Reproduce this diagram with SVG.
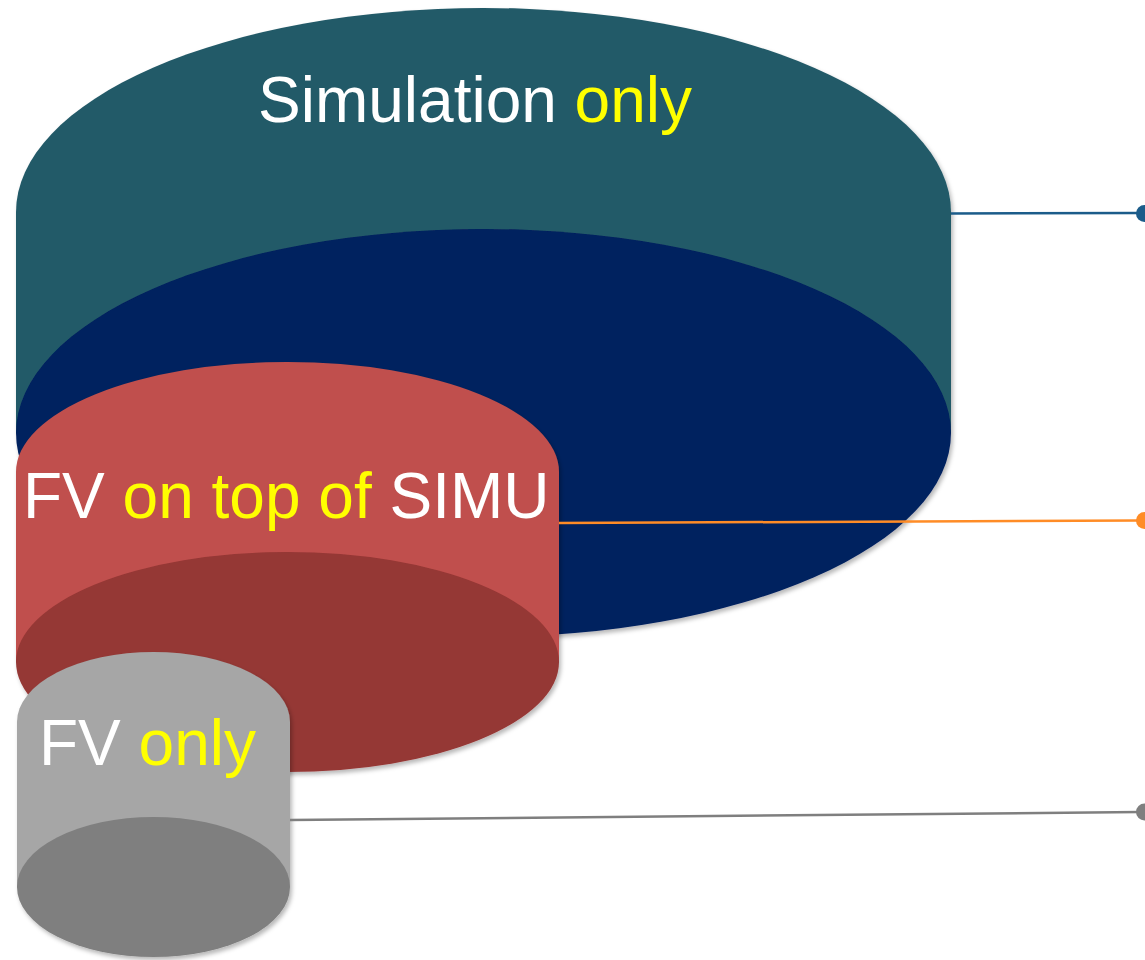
<svg xmlns="http://www.w3.org/2000/svg" width="1145" height="960" viewBox="0 0 1145 960">
  <defs>
    <filter id="shadow" x="-5%" y="-5%" width="112%" height="112%">
      <feDropShadow dx="2" dy="3" stdDeviation="2" flood-color="#000" flood-opacity="0.28"/>
    </filter>
    <style>
      .label { font-family: "Liberation Sans", Arial, sans-serif; font-size: 64px; fill: #ffffff; }
      .hl { fill: #ffff00; }
      .link { fill: none; stroke-width: 2.5; }
    </style>
  </defs>
  <rect width="1145" height="960" fill="#ffffff"/>

  <!-- Simulation only: large cylinder -->
  <g id="simulation-only" filter="url(#shadow)">
    <path d="M16,212 A467.5,204 0 0 1 951,212 L951,433 L16,433 Z" fill="#235A68"/>
    <ellipse cx="483.5" cy="433" rx="467.5" ry="204" fill="#02205E"/>
    <text class="label" x="258" y="122">Simulation <tspan class="hl">only</tspan></text>
  </g>

  <!-- FV on top of SIMU: middle cylinder -->
  <g id="fv-on-simu" filter="url(#shadow)">
    <path d="M16,472 A271.5,110 0 0 1 559,472 L559,662 L16,662 Z" fill="#C0504D"/>
    <ellipse cx="287.5" cy="662" rx="271.5" ry="110" fill="#953735"/>
    <text class="label" x="23" y="518">FV <tspan class="hl">on top of</tspan> SIMU</text>
  </g>

  <!-- FV only: small cylinder -->
  <g id="fv-only" filter="url(#shadow)">
    <path d="M17,722 A136.5,70 0 0 1 290,722 L290,887 L17,887 Z" fill="#A6A6A6"/>
    <ellipse cx="153.5" cy="887" rx="136.5" ry="70" fill="#7F7F7F"/>
    <text class="label" x="39" y="765">FV <tspan class="hl">only</tspan></text>
  </g>

  <!-- leader lines to the right edge -->
  <g id="connectors">
    <line class="link" x1="951" y1="213.5" x2="1140" y2="213" stroke="#1B5C8A"/>
    <circle cx="1144.5" cy="213.5" r="8.5" fill="#1B5C8A"/>
    <line class="link" x1="559" y1="523" x2="1140" y2="520.5" stroke="#FF8C26"/>
    <circle cx="1144.5" cy="520.5" r="8.5" fill="#FF8C26"/>
    <line class="link" x1="290" y1="820" x2="1140" y2="812" stroke="#7F7F7F"/>
    <circle cx="1144.5" cy="812" r="8.5" fill="#7F7F7F"/>
  </g>
</svg>
